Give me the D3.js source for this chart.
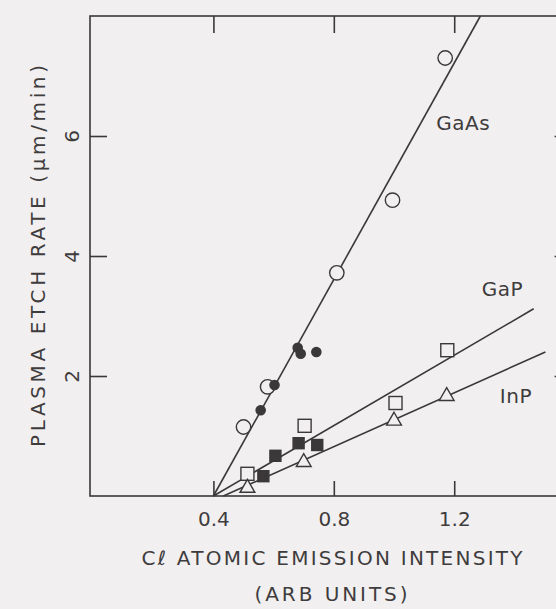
<!DOCTYPE html>
<html>
<head>
<meta charset="utf-8">
<script src="https://cdn.jsdelivr.net/npm/d3@7/dist/d3.min.js"></script>
<style>
  html, body { margin: 0; padding: 0; background: #f1efef; }
  svg { display: block; }
  text { font-family: "DejaVu Sans", sans-serif; fill: #3f3c3d; }
</style>
</head>
<body>
<div id="chart"></div>
<script>
// data
var xTicks = [0.4, 0.8, 1.2];
var yTicks = [2, 4, 6];

var gaasOpen   = [[0.50, 1.15], [0.58, 1.82], [0.81, 3.72], [0.995, 4.93], [1.17, 7.3]];
var gaasFilled = [[0.557, 1.43], [0.603, 1.85], [0.68, 2.47], [0.69, 2.37], [0.742, 2.4]];
var gapOpen    = [[0.513, 0.37], [0.703, 1.17], [1.005, 1.55], [1.177, 2.43]];
var gapFilled  = [[0.566, 0.33], [0.606, 0.67], [0.683, 0.88], [0.745, 0.85]];
var inpOpen    = [[0.513, 0.15], [0.70, 0.58], [1.00, 1.27], [1.175, 1.68]];

// fitted lines (end points)
var gaasLine = [[0.4, 0], [1.287, 8]];
var gapLine  = [[0.4, 0], [1.464, 3.12]];
var inpLine  = [[0.433, 0], [1.503, 2.4]];

var labels = ["GaAs", "GaP", "InP"];
var labelPos = [[1.23, 6.1], [1.36, 3.33], [1.405, 1.55]];

var width = 556, height = 609;
var ink = "#3b3839";
var bg = "#f1efef";

var svg = d3.select("#chart").append("svg")
    .attr("width", width)
    .attr("height", height);

var x = d3.scaleLinear().domain([-0.01, 1.59]).range([90, 571.6]);
var y = d3.scaleLinear().domain([0, 8]).range([496, 16]);

// frame
svg.append("rect")
    .attr("x", x(-0.01)).attr("y", y(8))
    .attr("width", x(1.59) - x(-0.01)).attr("height", y(0) - y(8))
    .attr("fill", "none").attr("stroke", ink).attr("stroke-width", 1.6);

// axes, ticks pointing inward
var xAxis = svg.append("g")
    .attr("transform", "translate(0," + y(0) + ")")
    .call(d3.axisBottom(x).tickValues(xTicks).tickSizeInner(-15).tickSizeOuter(0)
        .tickFormat(d3.format(".1f")));
var xTop = svg.append("g")
    .attr("transform", "translate(0," + y(8) + ")")
    .call(d3.axisTop(x).tickValues(xTicks).tickSizeInner(-17).tickSizeOuter(0).tickFormat(""));
var yAxis = svg.append("g")
    .attr("transform", "translate(" + x(-0.01) + ",0)")
    .call(d3.axisLeft(y).tickValues(yTicks).tickSizeInner(-17).tickSizeOuter(0));
var yRight = svg.append("g")
    .attr("transform", "translate(" + x(1.59) + ",0)")
    .call(d3.axisRight(y).tickValues(yTicks).tickSizeInner(-17).tickSizeOuter(0).tickFormat(""));

[xAxis, xTop, yAxis, yRight].forEach(function(g) {
    g.select(".domain").remove();
    g.selectAll(".tick line").attr("stroke", ink).attr("stroke-width", 1.6);
    g.selectAll(".tick text").style("font-size", "20px").attr("fill", "#3f3c3d")
        .style("font-family", "'DejaVu Sans', sans-serif");
});
xAxis.selectAll(".tick text").attr("dy", "0").attr("y", 30);
// y tick labels are printed sideways, like the axis title
yAxis.selectAll(".tick text")
    .attr("x", 0).attr("y", 0).attr("dy", "0")
    .attr("text-anchor", "middle")
    .attr("transform", "translate(-11,0) rotate(-90)");

// fit lines
var line = d3.line().x(function(d) { return x(d[0]); }).y(function(d) { return y(d[1]); });
[gaasLine, gapLine, inpLine].forEach(function(l) {
    svg.append("path").datum(l)
        .attr("d", line)
        .attr("fill", "none").attr("stroke", ink).attr("stroke-width", 1.6);
});

// markers
function circles(data, r, filled) {
    svg.append("g").selectAll("circle").data(data).enter().append("circle")
        .attr("cx", function(d) { return x(d[0]); })
        .attr("cy", function(d) { return y(d[1]); })
        .attr("r", r)
        .attr("fill", filled ? ink : bg)
        .attr("stroke", ink).attr("stroke-width", 1.4);
}
function squares(data, s, filled) {
    svg.append("g").selectAll("rect").data(data).enter().append("rect")
        .attr("x", function(d) { return x(d[0]) - s / 2; })
        .attr("y", function(d) { return y(d[1]) - s / 2; })
        .attr("width", s).attr("height", s)
        .attr("fill", filled ? ink : bg)
        .attr("stroke", ink).attr("stroke-width", 1.4);
}
var tri = d3.symbol().type(d3.symbolTriangle).size(95);
function triangles(data) {
    svg.append("g").selectAll("path").data(data).enter().append("path")
        .attr("d", tri)
        .attr("transform", function(d) { return "translate(" + x(d[0]) + "," + (y(d[1]) + 1) + ")"; })
        .attr("fill", bg)
        .attr("stroke", ink).attr("stroke-width", 1.4);
}

circles(gaasOpen, 7.2, false);
circles(gaasFilled, 4.6, true);
squares(gapOpen, 13, false);
squares(gapFilled, 11, true);
triangles(inpOpen);

// series labels
svg.append("g").selectAll("text").data(labels).enter().append("text")
    .attr("x", function(d, i) { return x(labelPos[i][0]); })
    .attr("y", function(d, i) { return y(labelPos[i][1]); })
    .attr("text-anchor", "middle")
    .style("font-size", "20px")
    .style("letter-spacing", "0.5px")
    .text(function(d) { return d; });

// axis titles
svg.append("text")
    .attr("x", 332).attr("y", 565)
    .attr("text-anchor", "middle")
    .attr("textLength", 381).attr("lengthAdjust", "spacing")
    .style("font-size", "20px")
    .text("Cℓ ATOMIC EMISSION INTENSITY");
svg.append("text")
    .attr("x", 331).attr("y", 601)
    .attr("text-anchor", "middle")
    .attr("textLength", 153).attr("lengthAdjust", "spacing")
    .style("font-size", "20px")
    .text("(ARB UNITS)");
svg.append("text")
    .attr("transform", "translate(45,256) rotate(-90)")
    .attr("text-anchor", "middle")
    .attr("textLength", 382).attr("lengthAdjust", "spacing")
    .style("font-size", "20px")
    .text("PLASMA ETCH RATE (μm/min)");
</script>
</body>
</html>
